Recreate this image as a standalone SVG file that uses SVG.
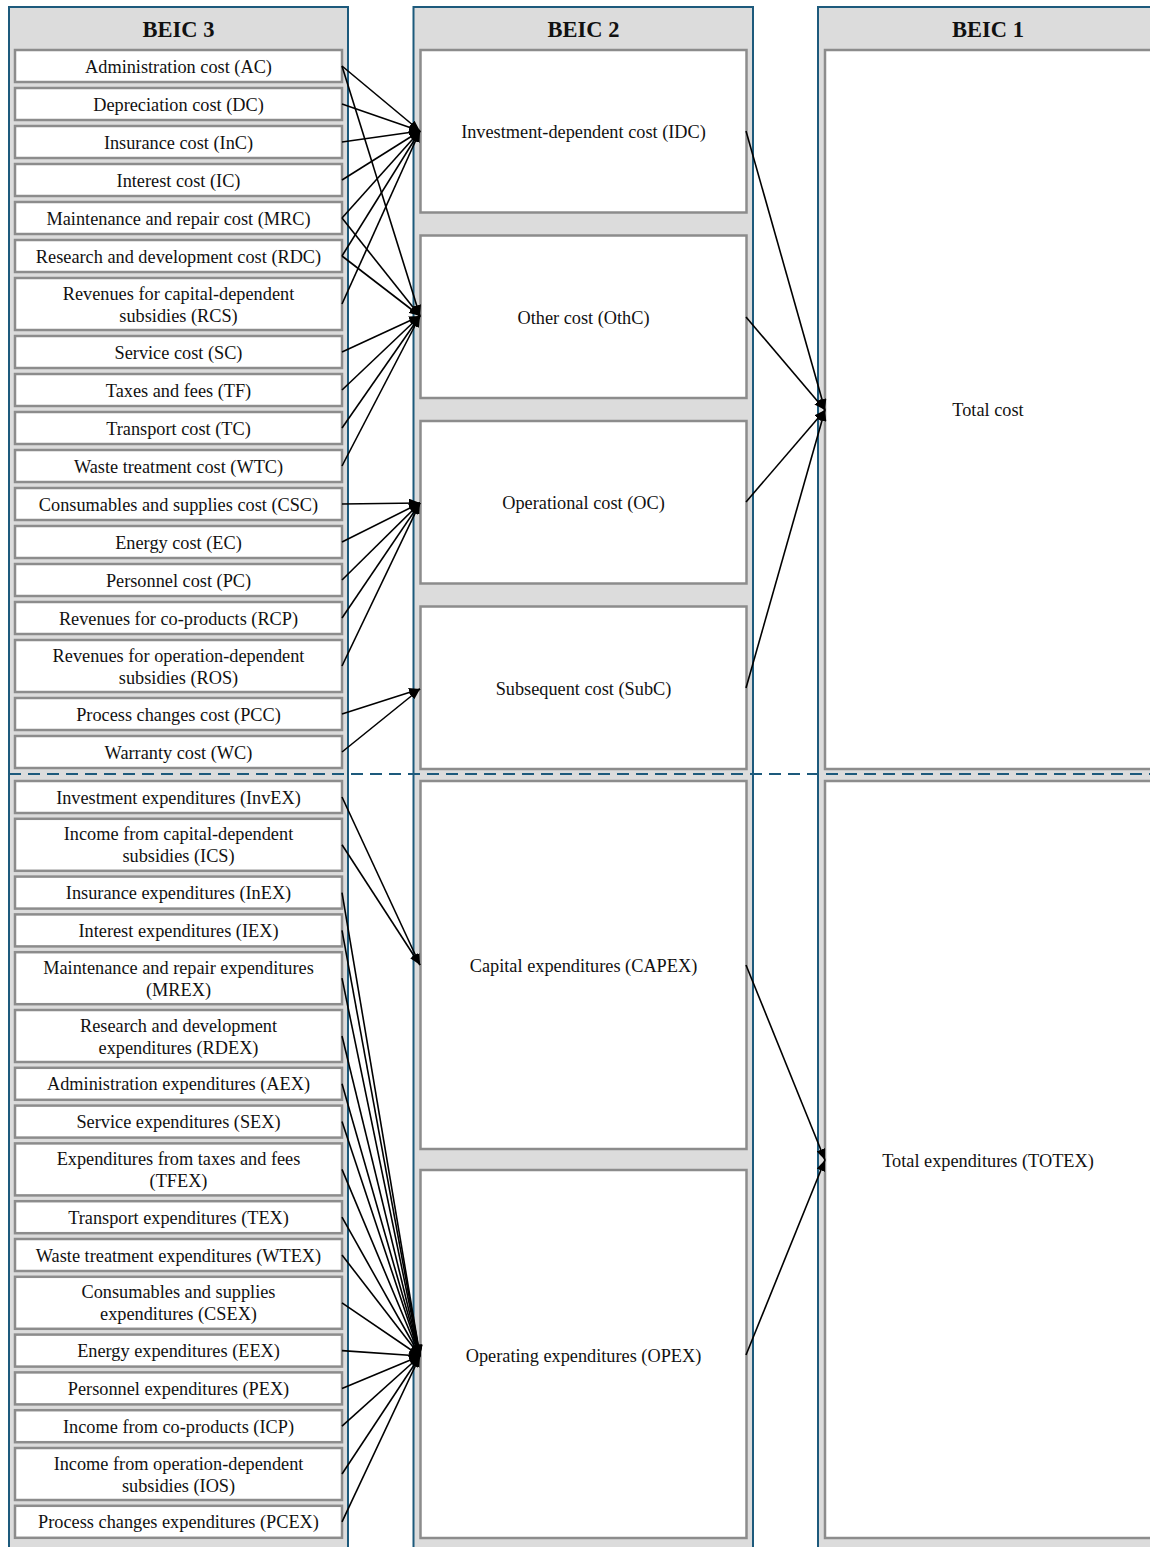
<svg xmlns="http://www.w3.org/2000/svg" width="1150" height="1547" viewBox="0 0 1150 1547">
<style>
.lane{fill:#dcdcdc;stroke:#1d5a7c;stroke-width:2}
.node{fill:#ffffff;stroke:#8c8c8c;stroke-width:2.5}
.t{font-family:"Liberation Serif","Times New Roman",serif;font-size:18.3px;fill:#111;text-anchor:middle}
.h{font-family:"Liberation Serif","Times New Roman",serif;font-size:22.5px;font-weight:bold;fill:#111;text-anchor:middle}
.e{stroke:#000;stroke-width:1.6;fill:none;marker-end:url(#arr)}
.div{stroke:#1d5a7c;stroke-width:2;stroke-dasharray:12 7;fill:none}
</style>
<defs>
<marker id="arr" markerUnits="userSpaceOnUse" markerWidth="11" markerHeight="9" refX="11" refY="4.5" orient="auto">
<path d="M0,0 L11,4.5 L0,9 z" fill="#000"/>
</marker>
</defs>
<rect width="1150" height="1547" fill="#ffffff"/>
<g id="lanes">
<g id="lane-beic3"><rect class="lane" x="9" y="7" width="339" height="1560"/><text class="h" x="178.5" y="37">BEIC 3</text></g>
<g id="lane-beic2"><rect class="lane" x="413.5" y="7" width="339.5" height="1560"/><text class="h" x="583.5" y="37">BEIC 2</text></g>
<g id="lane-beic1"><rect class="lane" x="818" y="7" width="345" height="1560"/><text class="h" x="988" y="37">BEIC 1</text></g>
</g>
<line class="div" x1="9" y1="774" x2="1150" y2="774"/>
<g id="beic3">
<g id="AC"><rect class="node" x="15" y="50" width="327" height="32"/><text class="t" x="178.5" y="72.5">Administration cost (AC)</text></g>
<g id="DC"><rect class="node" x="15" y="88" width="327" height="32"/><text class="t" x="178.5" y="110.5">Depreciation cost (DC)</text></g>
<g id="InC"><rect class="node" x="15" y="126" width="327" height="32"/><text class="t" x="178.5" y="148.5">Insurance cost (InC)</text></g>
<g id="IC"><rect class="node" x="15" y="164" width="327" height="32"/><text class="t" x="178.5" y="186.5">Interest cost (IC)</text></g>
<g id="MRC"><rect class="node" x="15" y="202" width="327" height="32"/><text class="t" x="178.5" y="224.5">Maintenance and repair cost (MRC)</text></g>
<g id="RDC"><rect class="node" x="15" y="240" width="327" height="32"/><text class="t" x="178.5" y="262.5">Research and development cost (RDC)</text></g>
<g id="RCS"><rect class="node" x="15" y="278" width="327" height="52"/><text class="t" x="178.5" y="299.5">Revenues for capital-dependent</text><text class="t" x="178.5" y="321.5">subsidies (RCS)</text></g>
<g id="SC"><rect class="node" x="15" y="336" width="327" height="32"/><text class="t" x="178.5" y="358.5">Service cost (SC)</text></g>
<g id="TF"><rect class="node" x="15" y="374" width="327" height="32"/><text class="t" x="178.5" y="396.5">Taxes and fees (TF)</text></g>
<g id="TC"><rect class="node" x="15" y="412" width="327" height="32"/><text class="t" x="178.5" y="434.5">Transport cost (TC)</text></g>
<g id="WTC"><rect class="node" x="15" y="450" width="327" height="32"/><text class="t" x="178.5" y="472.5">Waste treatment cost (WTC)</text></g>
<g id="CSC"><rect class="node" x="15" y="488" width="327" height="32"/><text class="t" x="178.5" y="510.5">Consumables and supplies cost (CSC)</text></g>
<g id="EC"><rect class="node" x="15" y="526" width="327" height="32"/><text class="t" x="178.5" y="548.5">Energy cost (EC)</text></g>
<g id="PC"><rect class="node" x="15" y="564" width="327" height="32"/><text class="t" x="178.5" y="586.5">Personnel cost (PC)</text></g>
<g id="RCP"><rect class="node" x="15" y="602" width="327" height="32"/><text class="t" x="178.5" y="624.5">Revenues for co-products (RCP)</text></g>
<g id="ROS"><rect class="node" x="15" y="640" width="327" height="52"/><text class="t" x="178.5" y="661.5">Revenues for operation-dependent</text><text class="t" x="178.5" y="683.5">subsidies (ROS)</text></g>
<g id="PCC"><rect class="node" x="15" y="698" width="327" height="32"/><text class="t" x="178.5" y="720.5">Process changes cost (PCC)</text></g>
<g id="WC"><rect class="node" x="15" y="736" width="327" height="32"/><text class="t" x="178.5" y="758.5">Warranty cost (WC)</text></g>
<g id="InvEX"><rect class="node" x="15" y="781" width="327" height="32"/><text class="t" x="178.5" y="803.5">Investment expenditures (InvEX)</text></g>
<g id="ICS"><rect class="node" x="15" y="818.8" width="327" height="52"/><text class="t" x="178.5" y="840.3">Income from capital-dependent</text><text class="t" x="178.5" y="862.3">subsidies (ICS)</text></g>
<g id="InEX"><rect class="node" x="15" y="876.6" width="327" height="32"/><text class="t" x="178.5" y="899.1">Insurance expenditures (InEX)</text></g>
<g id="IEX"><rect class="node" x="15" y="914.4" width="327" height="32"/><text class="t" x="178.5" y="936.9">Interest expenditures (IEX)</text></g>
<g id="MREX"><rect class="node" x="15" y="952.2" width="327" height="52"/><text class="t" x="178.5" y="973.7">Maintenance and repair expenditures</text><text class="t" x="178.5" y="995.7">(MREX)</text></g>
<g id="RDEX"><rect class="node" x="15" y="1010" width="327" height="52"/><text class="t" x="178.5" y="1031.5">Research and development</text><text class="t" x="178.5" y="1053.5">expenditures (RDEX)</text></g>
<g id="AEX"><rect class="node" x="15" y="1067.8" width="327" height="32"/><text class="t" x="178.5" y="1090.3">Administration expenditures (AEX)</text></g>
<g id="SEX"><rect class="node" x="15" y="1105.6" width="327" height="32"/><text class="t" x="178.5" y="1128.1">Service expenditures (SEX)</text></g>
<g id="TFEX"><rect class="node" x="15" y="1143.4" width="327" height="52"/><text class="t" x="178.5" y="1164.9">Expenditures from taxes and fees</text><text class="t" x="178.5" y="1186.9">(TFEX)</text></g>
<g id="TEX"><rect class="node" x="15" y="1201.2" width="327" height="32"/><text class="t" x="178.5" y="1223.7">Transport expenditures (TEX)</text></g>
<g id="WTEX"><rect class="node" x="15" y="1239" width="327" height="32"/><text class="t" x="178.5" y="1261.5">Waste treatment expenditures (WTEX)</text></g>
<g id="CSEX"><rect class="node" x="15" y="1276.8" width="327" height="52"/><text class="t" x="178.5" y="1298.3">Consumables and supplies</text><text class="t" x="178.5" y="1320.3">expenditures (CSEX)</text></g>
<g id="EEX"><rect class="node" x="15" y="1334.6" width="327" height="32"/><text class="t" x="178.5" y="1357.1">Energy expenditures (EEX)</text></g>
<g id="PEX"><rect class="node" x="15" y="1372.4" width="327" height="32"/><text class="t" x="178.5" y="1394.9">Personnel expenditures (PEX)</text></g>
<g id="ICP"><rect class="node" x="15" y="1410.2" width="327" height="32"/><text class="t" x="178.5" y="1432.7">Income from co-products (ICP)</text></g>
<g id="IOS"><rect class="node" x="15" y="1448" width="327" height="52"/><text class="t" x="178.5" y="1469.5">Income from operation-dependent</text><text class="t" x="178.5" y="1491.5">subsidies (IOS)</text></g>
<g id="PCEX"><rect class="node" x="15" y="1505.8" width="327" height="32"/><text class="t" x="178.5" y="1528.3">Process changes expenditures (PCEX)</text></g>
</g>
<g id="beic2">
<g id="IDC"><rect class="node" x="420.5" y="50" width="326" height="162.5"/><text class="t" x="583.5" y="137.5">Investment-dependent cost (IDC)</text></g>
<g id="OthC"><rect class="node" x="420.5" y="235.5" width="326" height="162.5"/><text class="t" x="583.5" y="323.5">Other cost (OthC)</text></g>
<g id="OC"><rect class="node" x="420.5" y="421" width="326" height="162.5"/><text class="t" x="583.5" y="508.5">Operational cost (OC)</text></g>
<g id="SubC"><rect class="node" x="420.5" y="606.5" width="326" height="162.5"/><text class="t" x="583.5" y="694.5">Subsequent cost (SubC)</text></g>
<g id="CAPEX"><rect class="node" x="420.5" y="781" width="326" height="368"/><text class="t" x="583.5" y="971.5">Capital expenditures (CAPEX)</text></g>
<g id="OPEX"><rect class="node" x="420.5" y="1170" width="326" height="368"/><text class="t" x="583.5" y="1361.5">Operating expenditures (OPEX)</text></g>
</g>
<g id="beic1">
<g id="TotalCost"><rect class="node" x="825" y="50" width="330" height="719"/><text class="t" x="988" y="415.5">Total cost</text></g>
<g id="TOTEX"><rect class="node" x="825" y="781" width="330" height="757"/><text class="t" x="988" y="1166.5">Total expenditures (TOTEX)</text></g>
</g>
<g id="connectors">
<line class="e" x1="342" y1="66" x2="420" y2="131"/>
<line class="e" x1="342" y1="104" x2="420" y2="131"/>
<line class="e" x1="342" y1="142" x2="420" y2="131"/>
<line class="e" x1="342" y1="180" x2="420" y2="131"/>
<line class="e" x1="342" y1="218" x2="420" y2="131"/>
<line class="e" x1="342" y1="256" x2="420" y2="131"/>
<line class="e" x1="342" y1="304" x2="420" y2="131"/>
<line class="e" x1="342" y1="66" x2="420" y2="316"/>
<line class="e" x1="342" y1="218" x2="420" y2="316"/>
<line class="e" x1="342" y1="256" x2="420" y2="316"/>
<line class="e" x1="342" y1="352" x2="420" y2="316"/>
<line class="e" x1="342" y1="390" x2="420" y2="316"/>
<line class="e" x1="342" y1="428" x2="420" y2="316"/>
<line class="e" x1="342" y1="466" x2="420" y2="316"/>
<line class="e" x1="342" y1="504" x2="420" y2="503"/>
<line class="e" x1="342" y1="542" x2="420" y2="503"/>
<line class="e" x1="342" y1="580" x2="420" y2="503"/>
<line class="e" x1="342" y1="618" x2="420" y2="503"/>
<line class="e" x1="342" y1="666" x2="420" y2="503"/>
<line class="e" x1="342" y1="714" x2="420" y2="689"/>
<line class="e" x1="342" y1="752" x2="420" y2="689"/>
<line class="e" x1="746" y1="131" x2="825" y2="410"/>
<line class="e" x1="746" y1="317" x2="825" y2="410"/>
<line class="e" x1="746" y1="502" x2="825" y2="410"/>
<line class="e" x1="746" y1="688" x2="825" y2="410"/>
<line class="e" x1="342" y1="797" x2="420" y2="965"/>
<line class="e" x1="342" y1="844.8" x2="420" y2="965"/>
<line class="e" x1="342" y1="892.6" x2="420" y2="1356"/>
<line class="e" x1="342" y1="930.4" x2="420" y2="1356"/>
<line class="e" x1="342" y1="978.2" x2="420" y2="1356"/>
<line class="e" x1="342" y1="1036" x2="420" y2="1356"/>
<line class="e" x1="342" y1="1083.8" x2="420" y2="1356"/>
<line class="e" x1="342" y1="1121.6" x2="420" y2="1356"/>
<line class="e" x1="342" y1="1169.4" x2="420" y2="1356"/>
<line class="e" x1="342" y1="1217.2" x2="420" y2="1356"/>
<line class="e" x1="342" y1="1255" x2="420" y2="1356"/>
<line class="e" x1="342" y1="1302.8" x2="420" y2="1356"/>
<line class="e" x1="342" y1="1350.6" x2="420" y2="1356"/>
<line class="e" x1="342" y1="1388.4" x2="420" y2="1356"/>
<line class="e" x1="342" y1="1426.2" x2="420" y2="1356"/>
<line class="e" x1="342" y1="1474" x2="420" y2="1356"/>
<line class="e" x1="342" y1="1521.8" x2="420" y2="1356"/>
<line class="e" x1="746" y1="965" x2="825" y2="1160"/>
<line class="e" x1="746" y1="1355" x2="825" y2="1160"/>
</g>
</svg>
